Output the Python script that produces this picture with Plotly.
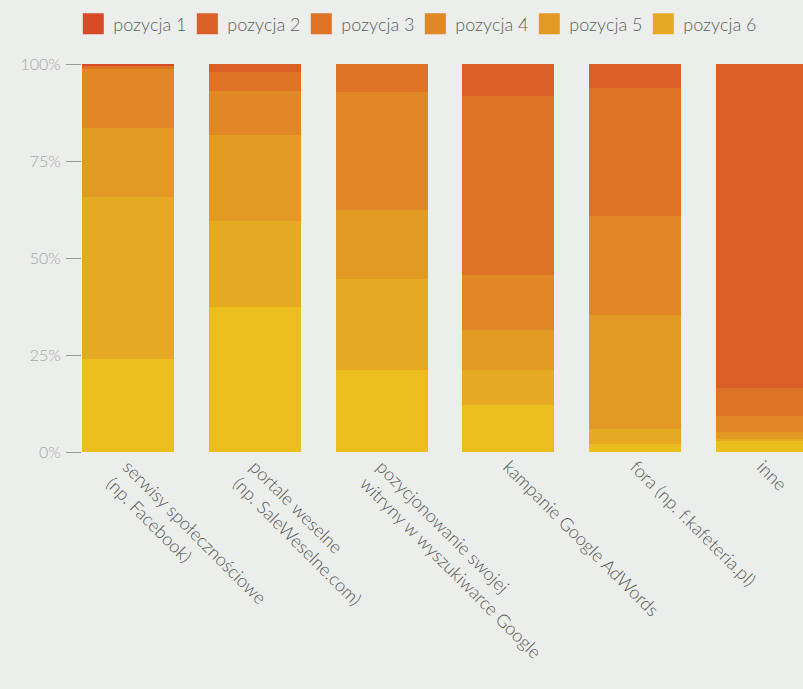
import plotly.graph_objects as go

categories = [
    "serwisy społecznościowe<br>(np. Facebook)",
    "portale weselne<br>(np. SaleWeselne.com)",
    "pozycjonowanie swojej<br>witryny w wyszukiwarce Google",
    "kampanie Google AdWords",
    "fora (np. f.kafeteria.pl)",
    "inne",
]
series_names = ["pozycja 1", "pozycja 2", "pozycja 3", "pozycja 4", "pozycja 5", "pozycja 6", "pozycja 7"]
pozycja_1 = [0.2, 0.0, 0.2, 0.0, 0.0, 0.0]
pozycja_2 = [0.0, 2.1, 0.0, 8.2, 6.2, 83.7]
pozycja_3 = [1.0, 4.9, 7.2, 46.2, 33.2, 7.2]
pozycja_4 = [15.1, 11.3, 30.3, 14.1, 25.5, 4.1]
pozycja_5 = [18.0, 22.1, 18.0, 10.3, 29.3, 1.8]
pozycja_6 = [41.6, 22.3, 23.4, 9.0, 3.9, 0.3]
pozycja_7 = [24.0, 37.3, 21.1, 12.1, 2.0, 3.0]
series_values = [pozycja_1, pozycja_2, pozycja_3, pozycja_4, pozycja_5, pozycja_6, pozycja_7]
colors = ["#D84B27", "#DA5F27", "#DE7326", "#E08726", "#E39A22", "#E5AA22", "#EBBD1D"]
y_tickvals = [0, 25, 50, 75, 100]
y_ticktext = ["0%", "25%", "50%", "75%", "100%"]

BG = "#ECEEEC"
FONT = "Lato"

fig = go.Figure()

# legend entries (larger square symbols), pozycja 1..6
for i in range(6):
    fig.add_trace(go.Scatter(
        x=[None], y=[None], mode="markers", name=series_names[i],
        marker=dict(symbol="square", size=16, color=colors[i],
                    line=dict(color=colors[i], width=5)),
        showlegend=True, hoverinfo="skip",
    ))

# stacked bars, bottom series first
for i in range(6, -1, -1):
    fig.add_trace(go.Bar(
        x=list(range(len(categories))), y=series_values[i], name=series_names[i],
        marker=dict(color=colors[i], line=dict(width=0)),
        showlegend=False,
    ))

fig.update_layout(
    width=803, height=689,
    paper_bgcolor=BG, plot_bgcolor=BG,
    barmode="stack", bargap=0.2756,
    margin=dict(l=82, r=0, t=64, b=237),
    font=dict(family=FONT, size=16, color="#666666", weight=300),
    legend=dict(
        orientation="h", xref="container", yref="container",
        x=0.0913, y=0.992, xanchor="left", yanchor="top",
        bgcolor="rgba(0,0,0,0)", font=dict(size=18, color="#5E5E5E", family=FONT),
        traceorder="normal", itemclick=False, entrywidth=69,
    ),
    xaxis=dict(
        range=[-0.3622, 5.3228], tickmode="array",
        tickvals=list(range(len(categories))), ticktext=categories,
        tickangle=45, showgrid=False, zeroline=False, showline=False, ticks="",
        tickfont=dict(size=18, color="#555555", family=FONT),
    ),
    yaxis=dict(
        range=[0, 100], tickmode="array", tickvals=y_tickvals, ticktext=y_ticktext,
        showgrid=False, zeroline=False, showline=False,
        ticks="outside", ticklen=15, tickwidth=1, tickcolor="#999999",
        tickfont=dict(size=16, color="#A6A6A6", family=FONT),
        ticklabelstandoff=2,
    ),
)

fig.write_html("out.html")
